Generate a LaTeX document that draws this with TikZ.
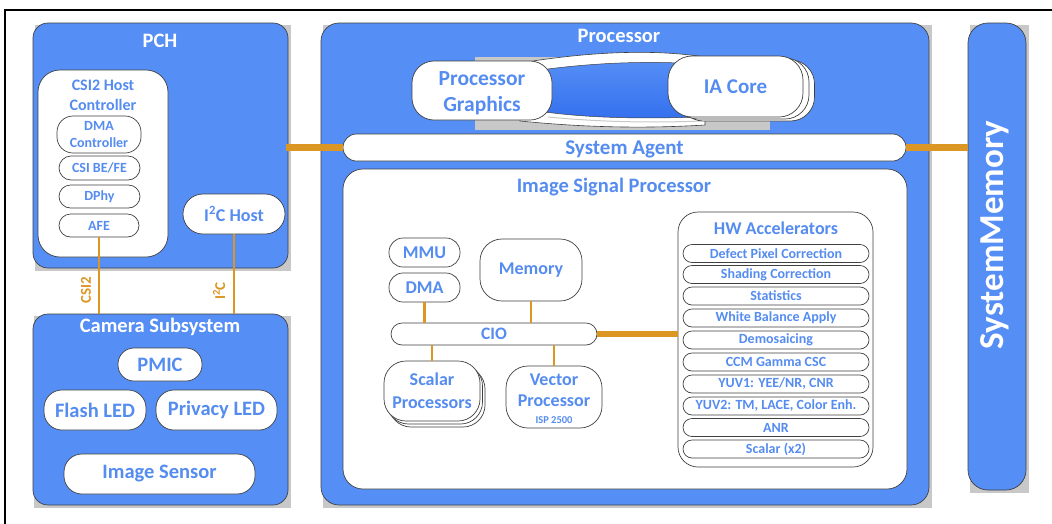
\documentclass[tikz,border=0pt]{standalone}
\usepackage{fontspec}
\setmainfont{Carlito}
\definecolor{ibl}{RGB}{85,142,245}
\definecolor{ibd}{RGB}{52,112,238}
\definecolor{itx}{RGB}{85,140,240}
\definecolor{orn}{RGB}{220,150,35}
\definecolor{edge}{RGB}{64,64,64}
\definecolor{shadowgray}{RGB}{200,200,200}
\newcommand\fsz[2]{\fontsize{#1}{#2}\selectfont}
\begin{document}
\begin{tikzpicture}[x=1pt,y=-1pt,
  bl/.style={fill=ibl, draw=edge, line width=0.7pt},
  wb/.style={fill=white, draw=edge, line width=0.7pt, text=itx, font=\bfseries, align=center, inner sep=0pt},
  ttl/.style={text=white, font=\bfseries\fsz{20.5}{24}, inner sep=0pt},
  btx/.style={text=itx, align=center, inner sep=0pt},
  lbl/.style={text=orn, font=\bfseries\fsz{15}{17}, inner sep=0pt},
  wire/.style={draw=orn, line width=2.3pt},
  bus/.style={draw=orn, line width=6.5pt},
  hwi/.style={wb, minimum width=186pt, minimum height=18pt, rounded corners=9pt, font=\bfseries\fsz{14}{16}}
]
\useasboundingbox (0,0) rectangle (1052,523);
\fill[white] (0,0) rectangle (1052,523);

% ---------------- PCH ----------------
\fill[shadowgray] (35,25) rectangle (291,271);
\node[bl, minimum width=255pt, minimum height=245pt, rounded corners=15pt] (pch) at (160.5,145.5) {};
\node[ttl] (pchT) at (160,41) {PCH};
\node[wb, minimum width=130pt, minimum height=187pt, rounded corners=22pt] (csi) at (103,163.5) {};
\node[btx, font=\bfseries\fsz{16}{20}] (csiT) at (103,95.5) {CSI2 Host\\Controller};
\node[wb, minimum width=84pt, minimum height=37pt, rounded corners=16pt] (dmac) at (99,134.5) {};
\node[btx, font=\bfseries\fsz{14}{17}] (dmacT) at (99,135) {DMA\\Controller};
\node[wb, minimum width=81pt, minimum height=24pt, rounded corners=12pt, font=\bfseries\fsz{14}{16}] (csibe) at (99.5,168) {CSI BE/FE};
\node[wb, minimum width=81pt, minimum height=23pt, rounded corners=11.5pt, font=\bfseries\fsz{14}{16}] (dphy) at (99.5,196.5) {DPhy};
\node[wb, minimum width=80pt, minimum height=23pt, rounded corners=11.5pt, font=\bfseries\fsz{14}{16}] (afe) at (99,225.5) {AFE};
\node[wb, minimum width=102pt, minimum height=40pt, rounded corners=20pt, font=\bfseries\fsz{18}{20}] (i2c) at (234,214) {I\textsuperscript{2}C Host};

% ---------------- Camera ----------------
\fill[shadowgray] (34,316) rectangle (291,508);
\node[bl, minimum width=255pt, minimum height=191pt, rounded corners=15pt] (cam) at (160.5,409.5) {};
\node[ttl] (camT) at (160,327) {Camera Subsystem};
\node[wb, minimum width=84pt, minimum height=33pt, rounded corners=16pt, font=\bfseries\fsz{20.5}{22}] (pmic) at (160,364.5) {PMIC};
\node[wb, minimum width=102pt, minimum height=40pt, rounded corners=18pt, font=\bfseries\fsz{20.5}{22}] (flash) at (95,410) {Flash LED};
\node[wb, minimum width=121pt, minimum height=40pt, rounded corners=18pt, font=\bfseries\fsz{20.5}{22}] (priv) at (216.5,410) {Privacy LED};
\node[wb, minimum width=191pt, minimum height=40pt, rounded corners=18pt, font=\bfseries\fsz{20.5}{22}] (sens) at (159.5,474) {Image Sensor};

\draw[wire] (afe.south) -- (afe.south |- cam.north);
\draw[wire] (i2c.south) -- (i2c.south |- cam.north);
\node[lbl, rotate=90] (lcsi) at (86,290) {CSI2};
\node[lbl, rotate=90] (li2c) at (219,291) {I\textsuperscript{2}C};

% ---------------- Processor ----------------
\fill[shadowgray] (323,25) rectangle (932,508);
\node[bl, minimum width=608pt, minimum height=482pt, rounded corners=18pt] (proc) at (625,264) {};
\node[ttl] (procT) at (619,36) {Processor};

\fill[shadowgray] (475,57) rectangle (770,130);
\draw[fill=white, draw=edge, line width=0.6pt] (520,63) .. controls (600,50) and (660,50) .. (705,57) -- (705,125) .. controls (640,129) and (580,127) .. (520,121) -- cycle;
\shade[top color=ibl, bottom color=ibd, draw=edge, line width=0.5pt] (540,70) .. controls (600,62) and (650,61) .. (700,64) -- (700,117) .. controls (640,119) and (590,118) .. (545,112) -- cycle;
\draw[shadowgray, line width=1pt] (548,117) .. controls (600,122) and (650,123) .. (702,121);

\node[wb, minimum width=140pt, minimum height=59pt, rounded corners=22pt] (pg) at (482,90.5) {};
\node[btx, font=\bfseries\fsz{21.5}{26}] (pgT) at (482,93) {Processor\\Graphics};
\node[wb, minimum width=135pt, minimum height=61pt, rounded corners=24pt] (ia3) at (747,90.5) {};
\node[wb, minimum width=135pt, minimum height=61pt, rounded corners=24pt] (ia2) at (741.5,88.5) {};
\node[wb, minimum width=135pt, minimum height=61pt, rounded corners=24pt, font=\bfseries\fsz{21}{24}] (ia) at (735.5,86.5) {IA Core};

\node[wb, minimum width=563pt, minimum height=27pt, rounded corners=13.5pt] (sa) at (624.5,147.5) {};
\node[btx, font=\bfseries\fsz{21}{24}] (saT) at (624.5,149) {System Agent};

\node[wb, minimum width=564pt, minimum height=320pt, rounded corners=20pt] (isp) at (625,329) {};
\node[btx, font=\bfseries\fsz{20.5}{24}] (ispT) at (614,187) {Image Signal Processor};

\node[wb, minimum width=71pt, minimum height=29pt, rounded corners=14pt, font=\bfseries\fsz{18}{20}] (mmu) at (424.5,252.5) {MMU};
\node[wb, minimum width=71pt, minimum height=29pt, rounded corners=14pt, font=\bfseries\fsz{18}{20}] (dma) at (424.5,287.5) {DMA};
\node[wb, minimum width=102pt, minimum height=62pt, rounded corners=22pt, font=\bfseries\fsz{18}{20}] (mem) at (531,270) {Memory};
\node[wb, minimum width=206pt, minimum height=22pt, rounded corners=11pt, font=\bfseries\fsz{17.5}{20}] (cio) at (494,334) {CIO};
\node[wb, minimum width=96pt, minimum height=60pt, rounded corners=22pt] (sc3) at (437,397) {};
\node[wb, minimum width=96pt, minimum height=60pt, rounded corners=22pt] (sc2) at (434.5,394) {};
\node[wb, minimum width=96pt, minimum height=60pt, rounded corners=22pt, font=\bfseries\fsz{18}{23}] (sc) at (432,391) {Scalar\\Processors};
\node[wb, minimum width=96pt, minimum height=62pt, rounded corners=22pt] (vec) at (554,397) {};
\node[btx, font=\bfseries\fsz{18}{21}] (vecT) at (554,390.5) {Vector\\Processor};
\node[btx, font=\bfseries\fsz{10.5}{12}] (vecS) at (554,420) {ISP 2500};

\draw[wire] (dma.south) -- (dma.south |- cio.north);
\draw[wire] (mem.south) -- (mem.south |- cio.north);
\draw[wire] (sc.north |- cio.south) -- (sc.north);
\draw[wire] (vec.north |- cio.south) -- (vec.north);

% HW accelerators
\node[wb, minimum width=195pt, minimum height=255pt, rounded corners=20pt] (hw) at (775.5,339.5) {};
\node[btx, font=\bfseries\fsz{18}{20}] (hwT) at (776,228) {HW Accelerators};
\node[hwi] (h1) at (776,253.5) {Defect Pixel Correction};
\node[hwi] (h2) at (776,274.5) {Shading Correction};
\node[hwi] (h3) at (776,296) {Statistics};
\node[hwi] (h4) at (776,318) {White Balance Apply};
\node[hwi] (h5) at (776,340) {Demosaicing};
\node[hwi] (h6) at (776,362) {CCM Gamma CSC};
\node[hwi] (h7) at (776,384) {YUV1: YEE/NR, CNR};
\node[hwi] (h8) at (776,406) {YUV2: TM, LACE, Color Enh.};
\node[hwi] (h9) at (776,427.5) {ANR};
\node[hwi] (h10) at (776,449) {Scalar (x2)};

\draw[bus] (cio.east) -- (cio.east -| hw.west);

% ---------------- System memory ----------------
\fill[shadowgray] (970,25) rectangle (1029,493);
\node[bl, minimum width=58pt, minimum height=467pt, rounded corners=20pt] (sysm) at (997,256.5) {};
\node[text=white, font=\bfseries\fsz{35}{40}, rotate=90, inner sep=0pt] (sysmT) at (995,235) {SystemMemory};

\draw[bus] ([xshift=-2pt]pch.east |- sa.west) -- (sa.west);
\draw[bus] (sa.east) -- (sa.east -| sysm.west);

% frame
\draw[line width=2.5pt] (5,530) -- (5,10) -- (1060,10);
\end{tikzpicture}
\end{document}
